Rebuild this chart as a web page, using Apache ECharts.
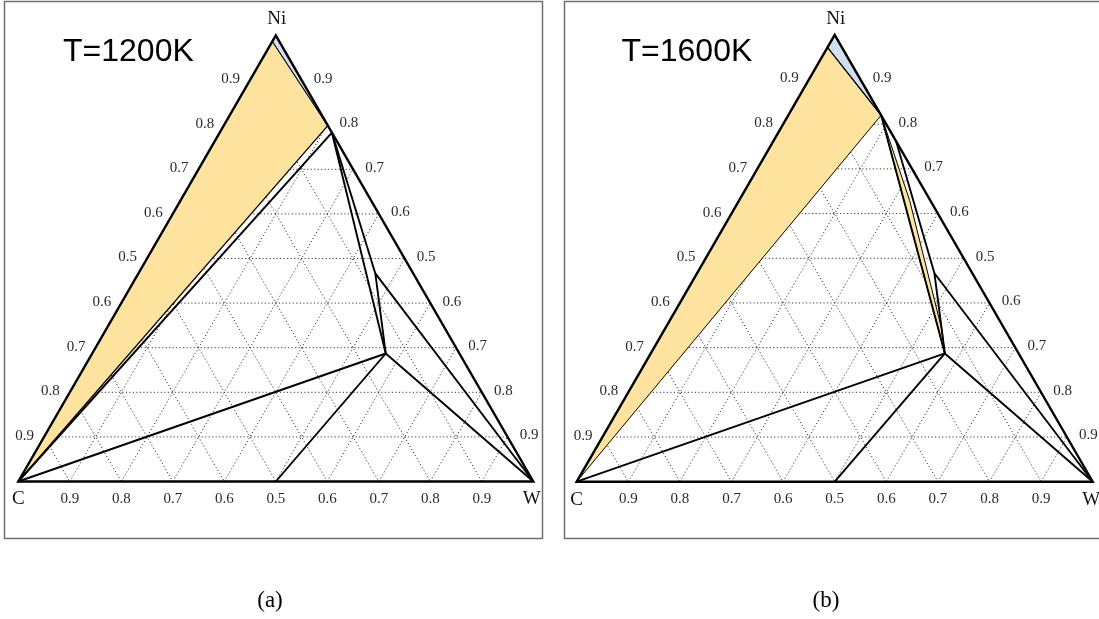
<!DOCTYPE html>
<html>
<head>
<meta charset="utf-8">
<script src="https://cdn.jsdelivr.net/npm/echarts@6/dist/echarts.min.js"></script>
<style>
  html, body { margin: 0; padding: 0; background: #fff; }
  #chart { width: 1099px; height: 619px; }
</style>
</head>
<body>
<div id="chart"></div>
<script>
// ---- data -------------------------------------------------------------
const cornerNames = ['C', 'Ni', 'W'];
const gridLevels = [0.1, 0.2, 0.3, 0.4, 0.5, 0.6, 0.7, 0.8, 0.9];
const tickLabels = ['0.9', '0.8', '0.7', '0.6', '0.5', '0.6', '0.7', '0.8', '0.9'];
const panelTitles = ['T=1200K', 'T=1600K'];
const panelCaptions = ['(a)', '(b)'];

// compositions as [C, Ni, W] mole fractions
const C_PURE = [1, 0, 0];
const NI_PURE = [0, 1, 0];
const W_PURE = [0, 0, 1];
const WC = [0.5, 0, 0.5];
const M6C = [0.143, 0.287, 0.570];   // Ni2W4C
const M12C = [0.0735, 0.4665, 0.46]; // Ni6W6C

// 1200 K
const fccCorner1200 = [0.013, 0.987, 0];
const fccW1200 = [0, 0.798, 0.202];
const fccEdge1200 = [0, 0.782, 0.218];
const fcc1200 = [NI_PURE, fccCorner1200, fccW1200];
const fccGraphite1200 = [C_PURE, fccCorner1200, fccW1200];
const tieLines1200 = [
  [fccEdge1200, C_PURE], [fccEdge1200, M6C], [fccEdge1200, M12C],
  [M12C, M6C], [M12C, W_PURE], [M6C, C_PURE], [M6C, WC], [M6C, W_PURE]
];

// 1600 K
const fccCorner1600 = [0.028, 0.972, 0];
const fccW1600 = [0, 0.82, 0.18];
const fccEdge1600 = [0, 0.762, 0.238];
const fcc1600 = [NI_PURE, fccCorner1600, fccW1600];
const fccGraphite1600 = [C_PURE, fccCorner1600, fccW1600];
const fccM6C1600 = [fccW1600, [0.040, 0.6295, 0.3305], [0.122, 0.341, 0.537], M6C];
const tieLines1600 = [
  [fccW1600, M6C], [fccEdge1600, M12C],
  [M12C, M6C], [M12C, W_PURE], [M6C, C_PURE], [M6C, WC], [M6C, W_PURE]
];

// ---- drawing ----------------------------------------------------------
const YELLOW = '#FDE39D';
const BLUE = '#CFE0F2';
const SQ3 = Math.sqrt(3) / 2;
const toXY = p => [p[2] + p[1] / 2, p[1] * SQ3];

const panels = [
  {
    fills: [
      { pts: fccGraphite1200, fill: YELLOW, lw: 1.3 },
      { pts: fcc1200, fill: BLUE, lw: 0.8 }
    ],
    lines: tieLines1200
  },
  {
    fills: [
      { pts: fccGraphite1600, fill: YELLOW, lw: 1.0 },
      { pts: fcc1600, fill: BLUE, lw: 1.3 },
      { pts: fccM6C1600, fill: YELLOW, lw: 1.0 }
    ],
    lines: tieLines1600
  }
];

const SERIF = '"Liberation Serif", "Times New Roman", serif';

function panelSeries(idx) {
  const panel = panels[idx];
  return {
    type: 'custom',
    xAxisIndex: idx,
    yAxisIndex: idx,
    clip: false,
    silent: true,
    data: [[0.5, 0.4]],
    renderItem(params, api) {
      const pt = p => api.coord(toXY(p));
      const kids = [];
      const seg = (a, b, style) => {
        const A = pt(a), B = pt(b);
        kids.push({ type: 'line', shape: { x1: A[0], y1: A[1], x2: B[0], y2: B[1] }, style });
      };
      // dotted composition grid
      const dot = { stroke: '#3a3a3a', lineWidth: 1, lineDash: [1.2, 2.3] };
      gridLevels.forEach(k => {
        seg([1 - k, k, 0], [0, k, 1 - k], dot);
        seg([1 - k, 0, k], [0, 1 - k, k], dot);
        seg([k, 1 - k, 0], [k, 0, 1 - k], dot);
      });
      // phase fields
      panel.fills.forEach(f => {
        kids.push({
          type: 'polygon',
          shape: { points: f.pts.map(pt) },
          style: { fill: f.fill, stroke: '#000', lineWidth: f.lw, lineJoin: 'round' }
        });
      });
      // tie lines
      panel.lines.forEach(([a, b]) => seg(a, b, { stroke: '#000', lineWidth: 1.9 }));
      // outline
      kids.push({
        type: 'polygon',
        shape: { points: [C_PURE, NI_PURE, W_PURE].map(pt) },
        style: { fill: null, stroke: '#000', lineWidth: 2.4, lineJoin: 'miter' }
      });
      // tick labels
      const lab = (p, text, dx, dy) => {
        const P = pt(p);
        kids.push({
          type: 'text', x: P[0] + dx, y: P[1] + dy,
          style: { text, fill: '#2b2b2b', font: '15px ' + SERIF, align: 'center', verticalAlign: 'middle' }
        });
      };
      gridLevels.forEach((k, i) => {
        lab([1 - k, 0, k], tickLabels[i], 0, 17.5);
        lab([k, 1 - k, 0], tickLabels[i], -19.5, -1);
        lab([0, 1 - k, k], tickLabels[i], 21.5, -1.5);
      });
      // corner labels
      const cornerLab = (p, text, dx, dy) => {
        const P = pt(p);
        kids.push({
          type: 'text', x: P[0] + dx, y: P[1] + dy,
          style: { text, fill: '#111', font: '19px ' + SERIF, align: 'center', verticalAlign: 'middle' }
        });
      };
      cornerLab(C_PURE, cornerNames[0], 0, 18);
      cornerLab(NI_PURE, cornerNames[1], 1, -16);
      cornerLab(W_PURE, cornerNames[2], -1.5, 18);
      return { type: 'group', children: kids };
    }
  };
}

const chart = echarts.init(document.getElementById('chart'), null, { renderer: 'canvas' });

const grids = [
  { left: 18.3, top: 35.5, width: 515, height: 515 * SQ3 },
  { left: 576.7, top: 481.7 - 516 * SQ3, width: 516, height: 516 * SQ3 }
];

chart.setOption({
  animation: false,
  backgroundColor: '#fff',
  grid: grids,
  xAxis: grids.map((g, i) => ({ gridIndex: i, type: 'value', min: 0, max: 1, show: false })),
  yAxis: grids.map((g, i) => ({ gridIndex: i, type: 'value', min: 0, max: SQ3, show: false })),
  graphic: [
    { type: 'rect', shape: { x: 4.5, y: 1.5, width: 538, height: 537 },
      style: { fill: null, stroke: '#6f6f6f', lineWidth: 1.5 }, z: -1 },
    { type: 'rect', shape: { x: 564.5, y: 1.5, width: 540, height: 537 },
      style: { fill: null, stroke: '#6f6f6f', lineWidth: 1.5 }, z: -1 },
    { type: 'text', x: 63, y: 52,
      style: { text: panelTitles[0], fill: '#000', font: '32px "Liberation Sans", Arial, sans-serif', verticalAlign: 'middle' } },
    { type: 'text', x: 621.5, y: 52,
      style: { text: panelTitles[1], fill: '#000', font: '32px "Liberation Sans", Arial, sans-serif', verticalAlign: 'middle' } },
    { type: 'text', x: 270, y: 601,
      style: { text: panelCaptions[0], fill: '#000', font: '23px ' + SERIF, align: 'center', verticalAlign: 'middle' } },
    { type: 'text', x: 826, y: 601,
      style: { text: panelCaptions[1], fill: '#000', font: '23px ' + SERIF, align: 'center', verticalAlign: 'middle' } }
  ],
  series: [panelSeries(0), panelSeries(1)]
});
</script>
</body>
</html>
